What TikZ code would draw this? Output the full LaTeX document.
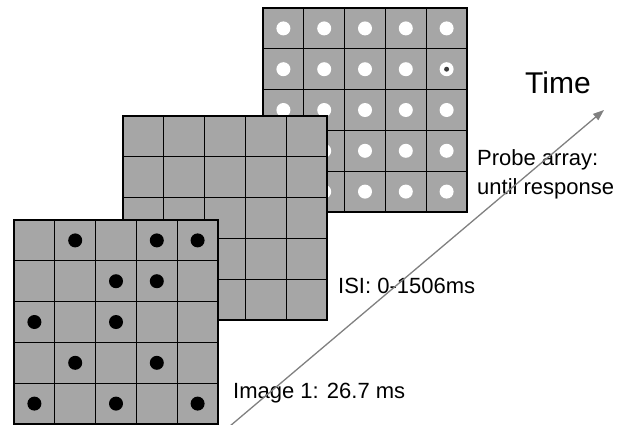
\documentclass[tikz,border=0pt]{standalone}
\usepackage{fontspec}
\setmainfont{Liberation Sans}
\usetikzlibrary{arrows.meta}
\definecolor{cellgray}{RGB}{166,166,166}
\definecolor{timegray}{RGB}{128,128,128}
\definecolor{fixgray}{RGB}{60,60,60}

\tikzset{
  gridline/.style={draw=black, line width=1.2pt},
  panelfill/.style={fill=cellgray},
  blackdot/.style={fill=black},
  whitedot/.style={fill=white},
  fixdot/.style={fill=fixgray},
  caption/.style={anchor=base west, inner sep=0pt, font=\fontsize{22}{26}\selectfont},
  timeaxis/.style={draw=timegray, line width=1.3pt, -{Triangle[length=11pt,width=8pt]}},
}

% 5x5 panel of grey cells, top-left corner at the current origin
\newcommand{\cellpanel}{%
  \fill[panelfill] (0,0) rectangle (204,204);
  \foreach \k in {1,...,4} {
    \draw[gridline] (\k*40.8,0) -- (\k*40.8,204);
    \draw[gridline] (0,\k*40.8) -- (204,\k*40.8);
  }
  \draw[gridline] (0,0) rectangle (204,204);
}
% dot in cell (column, row), counted from the top-left
\newcommand{\celldot}[3]{\fill[#3] ({#1*40.8+20.4},{#2*40.8+20.4}) circle[radius=7];}

\begin{document}
\begin{tikzpicture}[x=1pt,y=-1pt]
  \useasboundingbox (0,0) rectangle (628,424);

  % probe array: a white disc in every cell, the target marked
  \begin{scope}[shift={(263,8)}]
    \cellpanel
    \foreach \c in {0,...,4} {
      \foreach \r in {0,...,4} {
        \celldot{\c}{\r}{whitedot}
      }
    }
    \fill[fixdot] (4*40.8+20.4,1*40.8+20.4) circle[radius=2.5];
  \end{scope}

  % inter-stimulus blank
  \begin{scope}[shift={(123,116)}]
    \cellpanel
  \end{scope}

  % first image
  \begin{scope}[shift={(14,220)}]
    \cellpanel
    \celldot{1}{0}{blackdot} \celldot{3}{0}{blackdot} \celldot{4}{0}{blackdot}
    \celldot{2}{1}{blackdot} \celldot{3}{1}{blackdot}
    \celldot{0}{2}{blackdot} \celldot{2}{2}{blackdot}
    \celldot{1}{3}{blackdot} \celldot{3}{3}{blackdot}
    \celldot{0}{4}{blackdot} \celldot{2}{4}{blackdot} \celldot{4}{4}{blackdot}
  \end{scope}

  % labels
  \node[caption, font=\fontsize{30}{36}\selectfont] (time) at (525,93) {Time};
  \node[caption] (probe) at (477,165) {Probe array:};
  \node[caption] (until) at (477,194) {until response};
  \node[caption] (isi) at (338,293) {ISI: 0-1506ms};
  \node[caption] (img) at (233,398) {Image 1: 26.7 ms};

  % time axis
  \coordinate (tstart) at (230,426);
  \coordinate (tend) at (604,110);
  \draw[timeaxis] (tstart) -- (tend);
\end{tikzpicture}
\end{document}
